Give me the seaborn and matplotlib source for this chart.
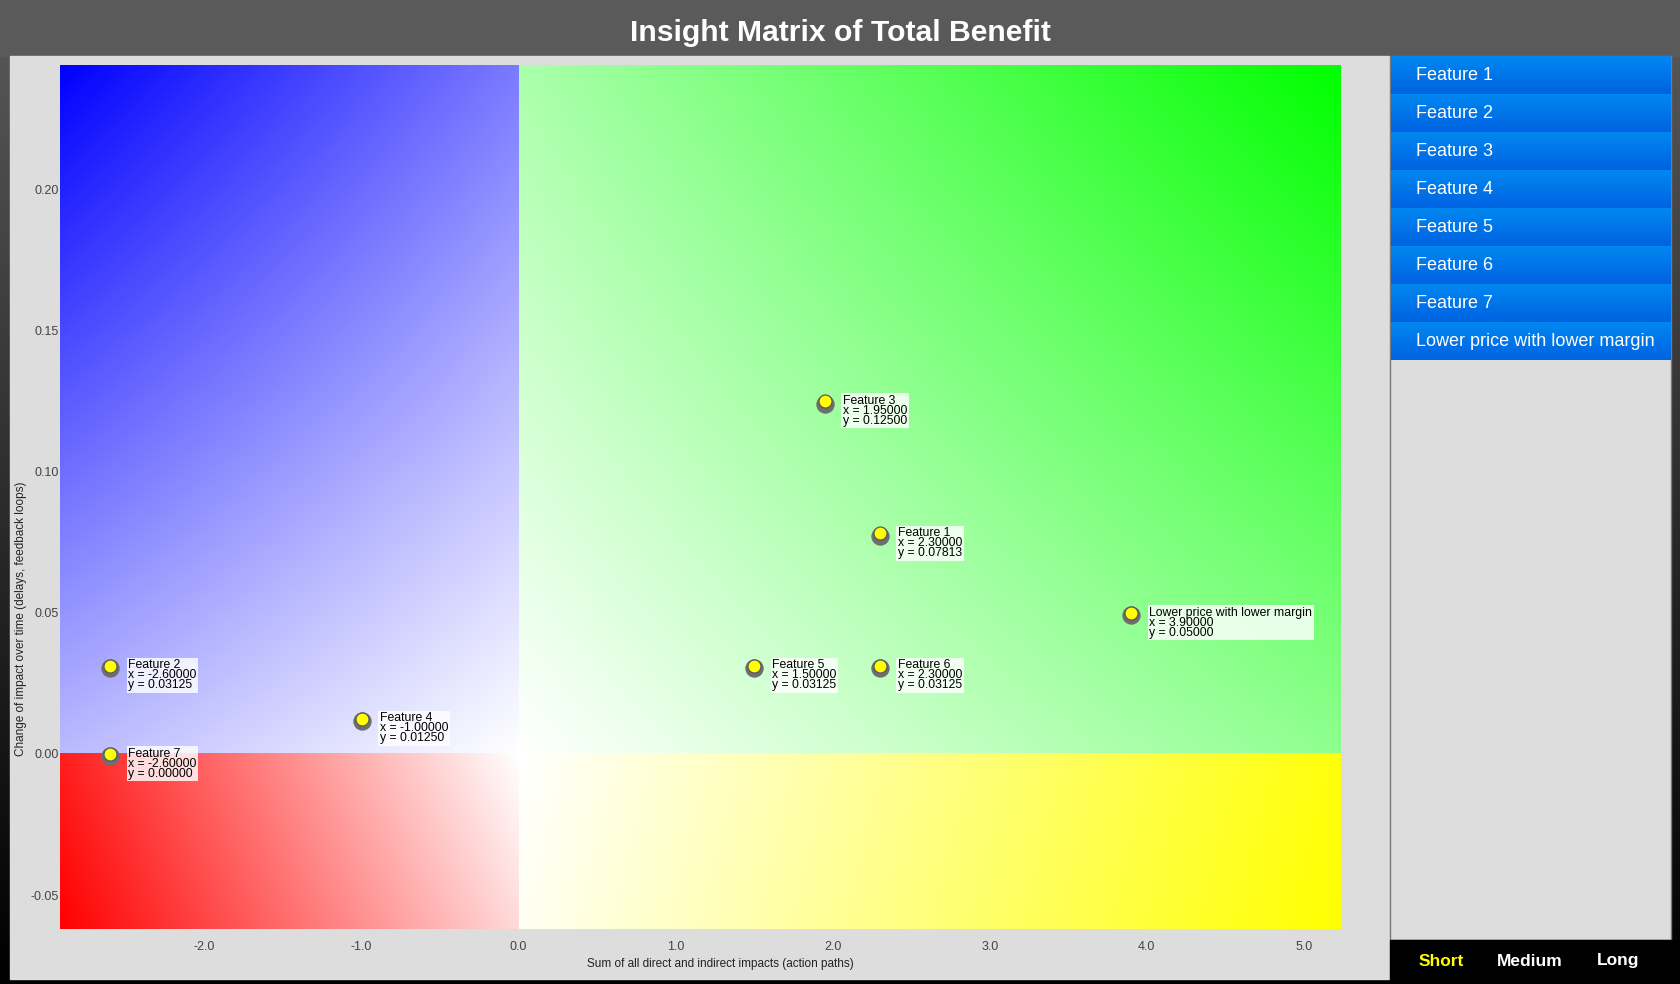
import numpy as np
import pandas as pd
import matplotlib
matplotlib.use("Agg")
import matplotlib.pyplot as plt
import matplotlib.transforms as mtransforms
from matplotlib.patches import Rectangle
import seaborn as sns

# ---------------- data ----------------
features = ["Feature 1", "Feature 2", "Feature 3", "Feature 4",
            "Feature 5", "Feature 6", "Feature 7", "Lower price with lower margin"]
x_values = [2.3, -2.6, 1.95, -1.0, 1.5, 2.3, -2.6, 3.9]
y_values = [0.07813, 0.03125, 0.125, 0.0125, 0.03125, 0.03125, 0.0, 0.05]
x_ticks = [-2.0, -1.0, 0.0, 1.0, 2.0, 3.0, 4.0, 5.0]
y_ticks = [-0.05, 0.0, 0.05, 0.10, 0.15, 0.20]
horizons = ["Short", "Medium", "Long"]
title = "Insight Matrix of Total Benefit"
x_label = "Sum of all direct and indirect impacts (action paths)"
y_label = "Change of impact over time (delays, feedback loops)"
x_range = (-2.92, 5.23)
y_range = (-0.062, 0.244)

df = pd.DataFrame({"feature": features, "x": x_values, "y": y_values})

sns.set_theme(style="white")
plt.rcParams["font.family"] = ["Liberation Sans", "DejaVu Sans"]

W, H = 1680, 984
fig = plt.figure(figsize=(16.8, 9.84), dpi=100)


def fr(x0, y0, x1, y1):
    return [x0 / W, 1 - y1 / H, (x1 - x0) / W, (y1 - y0) / H]


# ---------------- page background ----------------
bg = fig.add_axes([0, 0, 1, 1])
bg.set_axis_off()
bg.set_xlim(0, W)
bg.set_ylim(H, 0)
vg = np.linspace(90 / 255, 0.0, 256)[:, None]
bg.imshow(np.dstack([vg, vg, vg]), extent=(0, W, H, 0), aspect="auto", zorder=0)
bg.add_patch(Rectangle((0, 0), W, 56, color="#5a5a5a", zorder=1))
bg.add_patch(Rectangle((10, 56), 1379, 923, color="#dddddd", zorder=1))
# sidebar
bg.add_patch(Rectangle((1390, 56), 281, 884, facecolor="#dddddd",
                       edgecolor="#7a7a7a", linewidth=1, zorder=1))
btn_h = 38
bgrad = np.linspace(0, 1, 64)[:, None]
top_c = np.array([0, 136, 240]) / 255
bot_c = np.array([0, 98, 226]) / 255
btn_img = (top_c[None, None, :] * (1 - bgrad[..., None]) + bot_c[None, None, :] * bgrad[..., None])
for i, name in enumerate(features):
    y0 = 56 + i * btn_h
    bg.imshow(btn_img, extent=(1391, 1671, y0 + btn_h, y0), aspect="auto", zorder=2)
    bg.text(1416, y0 + btn_h / 2 + 1, name, color="white", fontsize=13,
            ha="left", va="center", zorder=3)
bg.add_patch(Rectangle((1390, 940), 290, 44, color="black", zorder=2))
for lbl, xc in zip(horizons, [1441, 1530, 1618]):
    bg.text(xc, 961, lbl, color="#ffff00" if lbl == "Short" else "white",
            fontsize=12.5, fontweight="bold", ha="center", va="center", zorder=3)
bg.text(840, 33, title, color="white", fontsize=21.7, fontweight="bold",
        ha="center", va="center", zorder=3)
bg.set_xlim(0, W)
bg.set_ylim(H, 0)

# ---------------- main chart ----------------
ax = fig.add_axes(fr(60, 65, 1340, 929))
ax.set_facecolor("none")


def quadrant(x0, x1, y0, y1, color, t_x, t_y, ox_left, oy_bottom, n=200):
    """white->colour gradient: white at the origin corner, full colour at the far corner"""
    u = np.linspace(0, 1, n)
    v = np.linspace(0, 1, n)
    U, V = np.meshgrid(u, v)
    t = t_x * U + t_y * V + (1 - t_x - t_y) * U * V
    t = np.clip(t, 0, 1)
    c = np.array(color)
    img = 1 - t[..., None] * (1 - c[None, None, :])
    if not oy_bottom:
        img = img[::-1]
    if not ox_left:
        img = img[:, ::-1]
    ax.imshow(img, extent=(x0, x1, y0, y1), origin="lower", aspect="auto",
              interpolation="bilinear", zorder=0)


quadrant(x_range[0], 0, 0, y_range[1], (0, 0, 1), 0.27, 0.52, ox_left=False, oy_bottom=True)
quadrant(0, x_range[1], 0, y_range[1], (0, 1, 0), 0.44, 0.33, ox_left=True, oy_bottom=True)
quadrant(x_range[0], 0, y_range[0], 0, (1, 0, 0), 0.88, 0.15, ox_left=False, oy_bottom=False)
quadrant(0, x_range[1], y_range[0], 0, (1, 1, 0), 0.95, 0.05, ox_left=True, oy_bottom=False)

shadow = ax.transData + mtransforms.ScaledTranslation(0, -2.5 / 100, fig.dpi_scale_trans)
sns.scatterplot(data=df, x="x", y="y", ax=ax, color="#6e6e6e", s=175,
                linewidth=0, transform=shadow, zorder=3, legend=False)
sns.scatterplot(data=df, x="x", y="y", ax=ax, color="#ffff00", s=88,
                edgecolor="#5a5a5a", linewidth=0.9, zorder=4, legend=False)

for name, xv, yv in zip(features, x_values, y_values):
    ax.annotate(f"{name}\nx = {xv:.5f}\ny = {yv:.5f}", xy=(xv, yv),
                xytext=(13, 4.5), textcoords="offset points", ha="left", va="top",
                fontsize=8.8, linespacing=0.78, color="black", zorder=5,
                bbox=dict(boxstyle="square,pad=0.12", fc="white", ec="none", alpha=0.82))

ax.set_xlim(*x_range)
ax.set_ylim(*y_range)
ax.set_xticks(x_ticks)
ax.set_xticklabels([f"{v:.1f}" for v in x_ticks])
ax.set_yticks(y_ticks)
ax.set_yticklabels([f"{v:.2f}" for v in y_ticks])
ax.tick_params(axis="x", length=0, pad=9, labelsize=9, labelcolor="#444444")
ax.tick_params(axis="y", length=0, pad=1, labelsize=9, labelcolor="#444444")
for s in ax.spines.values():
    s.set_visible(False)
ax.grid(False)
ax.set_xlabel(x_label, fontsize=8.5, color="#222222")
ax.set_ylabel(y_label, fontsize=8.5, color="#222222")
ax.xaxis.set_label_coords(0.516, -0.034)
ax.yaxis.set_label_coords(-0.026, 0.359)

fig.savefig("out.png", dpi=100)
